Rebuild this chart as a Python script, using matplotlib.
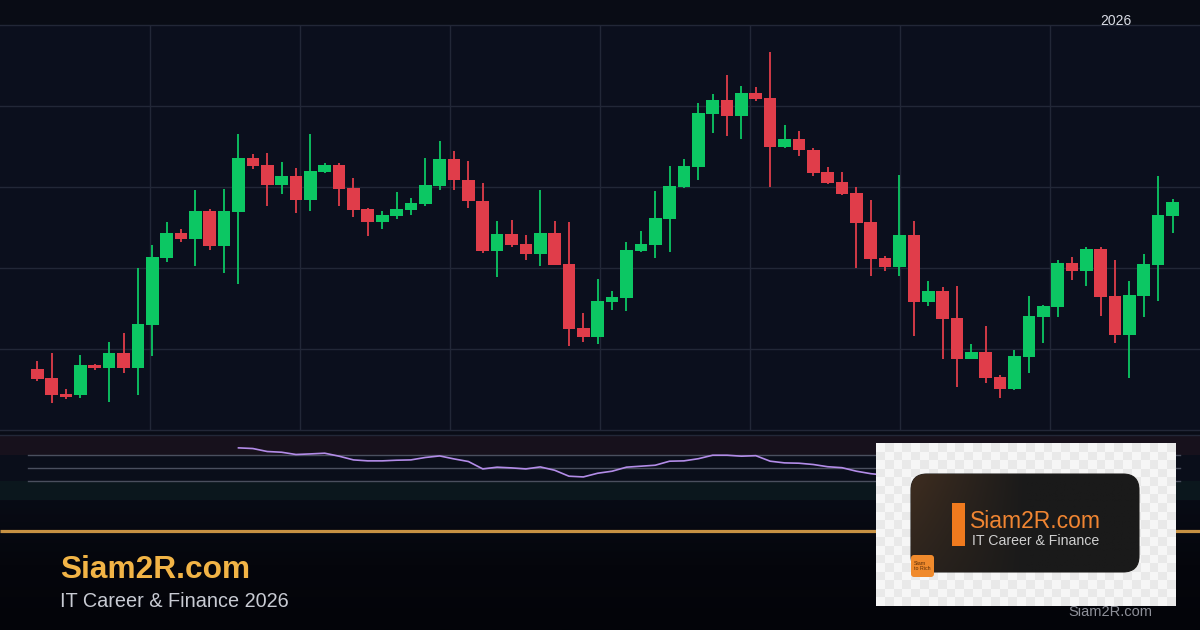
import numpy as np
import matplotlib
matplotlib.use("Agg")
import matplotlib.pyplot as plt
from matplotlib.patches import Rectangle, FancyBboxPatch
from matplotlib.colors import LinearSegmentedColormap, to_rgb

plt.rcParams['font.family'] = ['Liberation Sans', 'DejaVu Sans']

# -------------------
# Data
# -------------------
opens = [107.53, 106.42, 104.44, 104.32, 108.02, 107.65, 109.51, 107.65, 112.96, 121.23,
         124.32, 123.58, 127.04, 122.72, 126.91, 133.58, 132.72, 130.25, 131.36, 128.40,
         131.85, 132.72, 129.88, 127.28, 125.68, 126.42, 127.16, 127.90, 130.12, 133.46,
         130.86, 128.27, 122.10, 124.20, 122.96, 121.73, 124.32, 120.49, 112.59, 111.48,
         115.80, 116.30, 122.10, 122.84, 126.05, 130.00, 132.47, 139.01, 140.74, 138.77,
         141.60, 140.99, 134.94, 135.93, 134.57, 131.85, 130.62, 129.26, 125.68, 121.23,
         120.12, 124.07, 115.80, 117.16, 113.83, 108.77, 109.63, 106.54, 105.06, 109.01,
         113.95, 115.19, 120.62, 119.63, 122.35, 116.54, 111.73, 116.54, 120.37, 126.42]
highs = [108.52, 109.51, 105.06, 109.26, 108.15, 110.86, 111.98, 120.00, 122.84, 125.68,
         124.81, 129.63, 127.28, 129.75, 136.54, 134.07, 134.20, 133.09, 132.35, 136.54,
         132.96, 132.96, 131.11, 127.41, 127.04, 129.38, 128.64, 133.58, 135.68, 134.44,
         133.21, 130.49, 125.80, 125.93, 124.07, 129.63, 125.80, 125.68, 114.44, 118.64,
         117.16, 123.21, 124.57, 129.51, 132.59, 133.46, 140.37, 141.48, 143.83, 142.47,
         142.35, 146.67, 137.65, 136.91, 134.81, 132.47, 131.85, 130.00, 128.40, 121.48,
         131.48, 125.80, 118.40, 117.65, 117.78, 110.62, 112.84, 106.79, 109.88, 116.54,
         115.43, 120.99, 121.36, 122.59, 122.59, 120.99, 118.40, 121.73, 131.36, 128.52]
lows = [106.05, 103.33, 103.83, 103.95, 107.41, 103.46, 107.04, 104.32, 109.14, 120.74,
        123.21, 120.25, 122.22, 119.38, 118.02, 132.22, 127.65, 129.14, 126.79, 127.04,
        131.73, 127.65, 126.30, 123.95, 124.81, 126.05, 126.54, 127.65, 129.63, 129.63,
        127.41, 121.85, 118.89, 122.59, 120.99, 120.25, 120.37, 110.37, 110.86, 110.62,
        114.81, 114.69, 121.98, 121.23, 121.98, 129.88, 130.86, 136.67, 136.30, 135.93,
        140.62, 130.00, 134.81, 133.83, 131.36, 130.37, 129.01, 120.00, 119.01, 119.63,
        119.01, 111.60, 115.31, 108.77, 105.31, 108.77, 105.80, 103.95, 104.94, 107.04,
        110.74, 113.95, 118.52, 117.78, 114.07, 110.74, 106.42, 113.95, 115.93, 124.32]
closes = [106.30, 104.32, 104.07, 108.02, 107.65, 109.51, 107.65, 113.09, 121.36, 124.32,
          123.58, 127.04, 122.72, 127.04, 133.58, 132.59, 130.25, 131.36, 128.40, 131.98,
          132.72, 129.75, 127.16, 125.68, 126.54, 127.28, 128.02, 130.25, 133.46, 130.86,
          128.27, 122.10, 124.20, 122.84, 121.73, 124.32, 120.37, 112.47, 111.48, 115.93,
          116.42, 122.22, 122.96, 126.17, 130.12, 132.59, 139.14, 140.74, 138.77, 141.60,
          140.86, 134.94, 135.93, 134.57, 131.73, 130.49, 129.14, 125.56, 121.11, 120.12,
          124.07, 115.80, 117.16, 113.70, 108.77, 109.63, 106.42, 105.06, 109.14, 114.07,
          115.31, 120.62, 119.63, 122.35, 116.42, 111.73, 116.67, 120.49, 126.54, 128.15]

# RSI line, starts at candle 14
rsi_start = 14
rsi_values = [80.2, 79.2, 74.6, 73.5, 70.0, 70.9, 72.0, 67.4, 61.7, 60.2,
              60.2, 61.2, 61.7, 65.4, 67.8, 63.2, 59.2, 47.8, 50.5, 49.4,
              47.8, 50.9, 45.8, 36.6, 35.5, 41.2, 44.3, 50.5, 52.0, 53.5,
              59.7, 60.2, 63.5, 68.9, 68.9, 67.4, 68.2, 59.7, 57.1, 56.6,
              54.6, 51.2, 49.7, 44.3, 40.5, 38.2, 39.7]
rsi_levels = [70, 50, 30]

price_grid = [100, 110, 120, 130, 140, 150]

# -------------------
# Style
# -------------------
W, H = 1200, 630
GREEN = '#0CC763'
RED = '#E03D4A'
GRID = '#222737'
PANEL = '#0B0F1D'
HEADER = '#090C15'


def fig_rect(x, y, w, h):
    # pixel box (top-left origin) -> figure fraction
    return [x / W, 1 - (y + h) / H, w / W, h / H]


fig = plt.figure(figsize=(12, 6.3), dpi=100, facecolor=HEADER)

# background layer
bg = fig.add_axes([0, 0, 1, 1], zorder=-10)
bg.set_xlim(0, W)
bg.set_ylim(H, 0)
bg.axis('off')
bg.add_patch(Rectangle((0, 0), W, 25, color=HEADER, lw=0))
bg.add_patch(Rectangle((0, 430), W, 5, color='#090C16', lw=0))
fade = LinearSegmentedColormap.from_list('fade', ['#080B15', '#05060C', '#030409'])
bg.imshow(np.linspace(0, 1, 120)[:, None], extent=(0, W, H, 500), cmap=fade,
          aspect='auto', origin='upper')
bg.plot([0, W], [531, 531], color='#C79143', lw=2.3, solid_capstyle='butt')

# -------------------
# Price panel
# -------------------
ax = fig.add_axes(fig_rect(0, 25, W, 405))
ax.set_facecolor(PANEL)
for s in ax.spines.values():
    s.set_visible(False)
ax.set_xticks([])
ax.set_yticks([])

x = np.arange(len(opens))
o = np.array(opens)
c = np.array(closes)
col = np.where(c >= o, GREEN, RED)

x0, x1 = -2.596, 80.912
ax.set_xlim(x0, x1)
ax.set_ylim(price_grid[0], price_grid[-1])

for v in price_grid:
    ax.axhline(v, color=GRID, lw=1.0, zorder=0, clip_on=False)
for k in range(1, 8):
    ax.axvline(x0 + (x1 - x0) * k / 8, color=GRID, lw=1.0, zorder=0)

ax.vlines(x, lows, highs, colors=col, lw=1.3, zorder=2)
ax.bar(x, np.maximum(np.abs(c - o), 0.15), bottom=np.minimum(o, c), width=0.88,
       color=col, lw=0, zorder=3)

fig.text(1116 / W, 1 - 25 / H, '2026', color='#DADDE6', fontsize=10,
         ha='center', va='baseline')

# -------------------
# RSI panel
# -------------------
rax = fig.add_axes(fig_rect(0, 435, W, 65))
rax.set_facecolor('#0A0E1A')
for s in rax.spines.values():
    s.set_visible(False)
rax.set_xticks([])
rax.set_yticks([])
rax.set_xlim(x0, x1)
rax.set_ylim(0, 100)
rax.axhspan(70, 100, color='#17111C', lw=0, zorder=0)
rax.axhspan(0, 30, color='#0B171D', lw=0, zorder=0)
rax.axhline(100, color=GRID, lw=1.0, clip_on=False)
for lvl in rsi_levels:
    rax.axhline(lvl, xmin=28 / W, xmax=1180 / W, color='#4A4F5E', lw=1.0, zorder=1)
rax.plot(np.arange(rsi_start, rsi_start + len(rsi_values)), rsi_values,
         color='#B38CE8', lw=1.2, zorder=2)

# -------------------
# Bottom branding
# -------------------
fig.text(60 / W, 1 - 578 / H, 'Siam2R.com', color='#F2B446', fontsize=22.8,
         fontweight='bold', ha='left', va='baseline')
fig.text(60 / W, 1 - 607 / H, 'IT Career & Finance 2026', color='#C8CBD3',
         fontsize=14.3, ha='left', va='baseline')
fig.text(1110 / W, 1 - 616 / H, 'Siam2R.com', color='#8E9099', fontsize=10.5,
         ha='center', va='baseline')

# logo card
lg = fig.add_axes(fig_rect(876, 443, 300, 163), zorder=5)
lg.set_xlim(0, 300)
lg.set_ylim(163, 0)
lg.axis('off')
rows, cols = 19, 34
checker = np.add.outer(np.arange(rows), np.arange(cols)) % 2
lg.imshow(checker, extent=(0, 300, 163, 0), cmap=LinearSegmentedColormap.from_list(
    'chk', ['#F6F6F6', '#E9E9E9']), aspect='auto', interpolation='nearest')

card = FancyBboxPatch((35, 31), 228, 98, boxstyle='round,pad=0,rounding_size=16',
                      fc='#1C1B1A', ec='#2A2826', lw=0.8, zorder=2)
lg.add_patch(card)
gx = np.linspace(0, 1, 200)[None, :]
gy = np.linspace(0, 1, 80)[:, None]
w = np.clip(1 - gx * 2.0, 0, 1) * (1 - 0.5 * gy)
warm = np.array(to_rgb('#3E2D20'))
dark = np.array(to_rgb('#1A1A1A'))
grad = dark[None, None, :] * (1 - w[..., None]) + warm[None, None, :] * w[..., None]
im = lg.imshow(grad, extent=(35, 263, 129, 31), aspect='auto', zorder=3)
im.set_clip_path(card)

lg.add_patch(Rectangle((76, 60), 13, 43, color='#F07A1E', lw=0, zorder=4))
lg.text(94, 85, 'Siam2R.com', color='#F08532', fontsize=16.5, ha='left',
        va='baseline', zorder=5)
lg.text(96, 98, 'IT Career & Finance', color='#D0D0D0', fontsize=10.2,
        ha='left', va='center', zorder=5)
badge = FancyBboxPatch((35, 112), 23, 22, boxstyle='round,pad=0,rounding_size=3',
                       fc='#F08A2C', ec='none', zorder=5)
lg.add_patch(badge)
lg.text(37.5, 123, 'Siam\nto Rich', color='#5A2E0A', fontsize=3.8, ha='left',
        va='center', linespacing=0.95, zorder=6)

fig.savefig('out.png', dpi=100, facecolor=fig.get_facecolor())
